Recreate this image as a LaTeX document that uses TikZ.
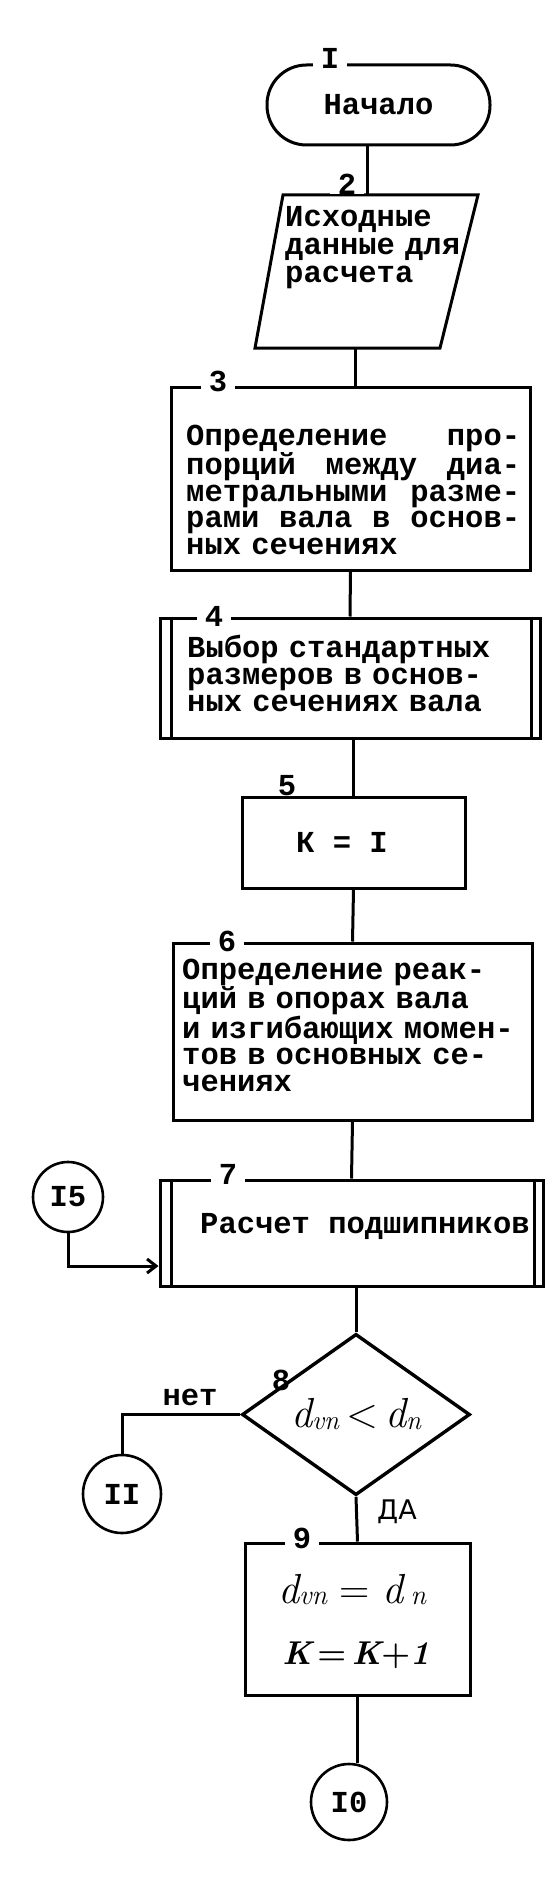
\documentclass[tikz,border=0pt]{standalone}
\usepackage{fontspec}
\newfontfamily\twf{Liberation Mono}
\newfontfamily\hwf{DejaVu Sans}
\usetikzlibrary{shapes.geometric,arrows.meta,calc}
\newcommand\twfs[1]{\twf\bfseries\fontsize{30.5}{#1}\selectfont}
\newcommand\tws{\twfs{26.3}}
\newcommand\hand[1]{\fontsize{#1}{#1}\selectfont\itshape}
\begin{document}
\begin{tikzpicture}[x=1pt,y=-1pt,
  lw/.style={line width=3pt},
  box/.style={draw, lw, rectangle, inner sep=0pt},
  num/.style={font=\tws, fill=white, inner xsep=8pt, inner ysep=0pt},
  plain/.style={font=\tws, inner sep=0pt},
  txt/.style={font=\tws, align=left, inner sep=0pt, anchor=base west},
  circ/.style={draw, circle, line width=2.6pt, inner sep=0pt, font=\tws},
]
\fill[white] (0,0) rectangle (557,1878);
\useasboundingbox (0,0) rectangle (557,1878);

% 1 terminator
\node[box, rounded corners=39.5pt, minimum width=223pt, minimum height=80pt, font=\tws] (b1) at (378.5,105) {Начало};

% 2 parallelogram
\draw[lw, line join=miter] (283,195) -- (478,195) -- (440,348) -- (255,348) -- cycle;
\coordinate (p2t) at (367,195);
\coordinate (p2b) at (355,348);
\node[txt, text width=200pt, font={\twfs{28}}] (t2) at (285,227) {Исходные\\данные для\\расчета};

% 3
\node[box, minimum width=359pt, minimum height=183pt] (b3) at (350.5,478.5) {};
\node[txt, text width=334pt, font={\twfs{26.8}}] (t3) at (186,445)
  {Определение \hfill про-\\порций \hfill между \hfill диа-\\метральными \hfill разме-\\рами \hfill вала \hfill в \hfill основ-\\ных сечениях};

% 4
\node[box, minimum width=380pt, minimum height=120pt] (b4) at (350,678) {};
\draw[lw] ([xshift=13pt]b4.north west) -- ([xshift=13pt]b4.south west);
\draw[lw] ([xshift=-10pt]b4.north east) -- ([xshift=-10pt]b4.south east);
\node[txt, text width=330pt, font={\twfs{27}}] (t4) at (187,657) {Выбор стандартных\\размеров в основ-\\ных сечениях вала};

% 5
\node[box, minimum width=223pt, minimum height=91pt] (b5) at (353.5,842.5) {};
\node[plain, anchor=base] (t5) at (342,852) {К = I};

% 6
\node[box, minimum width=359pt, minimum height=177pt] (b6) at (352.5,1031.5) {};
\node[txt, text width=350pt, font={\twfs{26.8}}] (t6) at (182,979)
  {Определение реак-\\ций в опорах вала\\и изгибающих момен-\\тов в основных се-\\чениях};

% 7
\node[box, minimum width=383pt, minimum height=106pt] (b7) at (351.5,1233) {};
\draw[lw] ([xshift=13pt]b7.north west) -- ([xshift=13pt]b7.south west);
\draw[lw] ([xshift=-10pt]b7.north east) -- ([xshift=-10pt]b7.south east);
\node[txt] (t7) at (200,1233) {Расчет подшипников};

% connector circle 15
\node[circ, minimum size=70pt] (c15) at (68,1197) {I5};

% 8 decision
\node[draw, diamond, line width=3.4pt, minimum width=228pt, minimum height=148pt, inner sep=0pt] (d8) at (356,1414.5)
  {\hand{42}d\raisebox{-2pt}{\hand{27}vn}{\upshape\,<\,}d\raisebox{-2pt}{\hand{27}n}};

% circle 11
\node[circ, minimum size=78pt] (c11) at (122,1494) {II};

% 9
\node[box, minimum width=225pt, minimum height=152pt] (b9) at (357.5,1619) {};
\node[inner sep=0pt] (t9a) at (352,1590) {\hand{42}d\raisebox{-1pt}{\hand{28}vn}{\upshape\ =\ }d\,\raisebox{-1pt}{\hand{28}n}};
\node[inner sep=0pt] (t9b) at (356,1655) {\hand{33}\bfseries K{\upshape\,=\,}K{\upshape+}1};

% circle 10
\node[circ, minimum size=76pt] (c10) at (349,1802) {I0};

% connectors
\draw[lw] ([xshift=-11.5pt]b1.south) -- (p2t);
\draw[lw] (p2b) -- (p2b |- b3.north);
\draw[lw] (b3.south) -- (b4.north);
\draw[lw] (b5.north) -- (b5.north |- b4.south);
\draw[lw] (b5.south) -- (b6.north);
\draw[lw] (b6.south) -- (b7.north);
\draw[lw] (d8.north) -- (d8.north |- b7.south);
\draw[lw] (d8.south) -- (b9.north);
\draw[lw] (b9.south) -- (b9.south |- c10.north);
\draw[lw] (d8.west) -| (c11.north);
\draw[lw, -{Straight Barb[length=9pt,width=14pt]}] (c15.south) |- ([yshift=-33pt]b7.west);

% labels
\node[num] (n1) at (330,58) {I};
\node[num] (n2) at (347,184) {2};
\node[num] (n3) at (218,381) {3};
\node[num] (n4) at (214,616) {4};
\node[plain] (n5) at (287,786) {5};
\node[num] (n6) at (227,941) {6};
\node[num] (n7) at (228,1174) {7};
\node[plain] (n8) at (281,1380) {8};
\node[num] (n9) at (302,1538) {9};
\node[plain] (lno) at (190,1397) {нет};
\node[inner sep=0pt, font={\hwf\fontsize{27}{27}\selectfont}] (lyes) at (397,1512) {ДА};
\end{tikzpicture}
\end{document}
